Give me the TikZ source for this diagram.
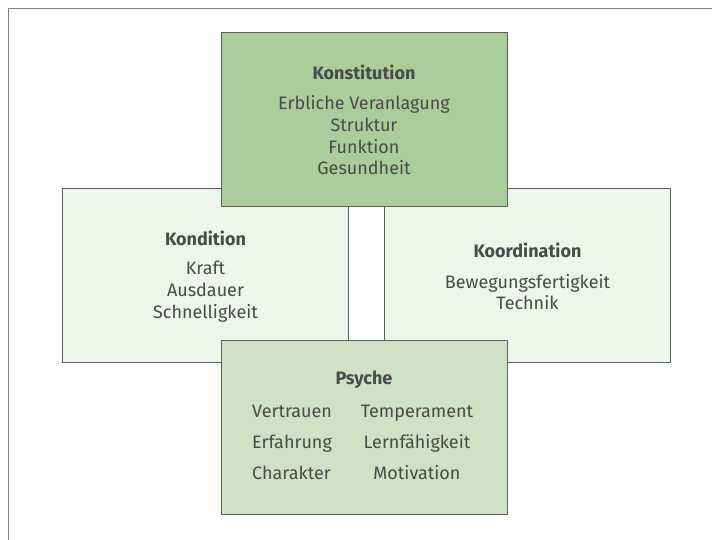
\documentclass[tikz,border=0pt]{standalone}
\usepackage{fontspec}
\setmainfont{Fira Sans}
\definecolor{strong}{HTML}{AACD9B}
\definecolor{pale}{HTML}{EEF5EB}
\definecolor{mid}{HTML}{CFE2C5}
\definecolor{edge}{HTML}{5E5E5E}
\definecolor{ink}{HTML}{4A4A4A}

\begin{document}
\begin{tikzpicture}[x=1pt, y=-1pt,
	box/.style = {draw=edge, line width=0.9pt, rectangle, inner sep=0pt, minimum width=286pt, minimum height=174pt},
	head/.style = {text=ink, font=\fontsize{18}{20}\selectfont\bfseries},
	items/.style = {text=ink, inner sep=0pt, font=\fontsize{18}{21.7}\selectfont, align=center}]
	\useasboundingbox (0,0) rectangle (712,540);
	% frame
	\draw[draw=gray, line width=0.8pt] (8,540) -- (8,8.5) -- (712,8.5);
	% boxes
	\node (kond)  [box, fill=pale]   at (205.5,275) {};
	\node (koord) [box, fill=pale]   at (527.5,275) {};
	\node (konst) [box, fill=strong] at (364,119.5) {};
	\node (psy)   [box, fill=mid]    at (364,427) {};
	% texts
	\node (konsthead) [head]  at (364,72) {Konstitution};
	\node (konstlist) [items] at (364,135.5) {Erbliche Veranlagung\\Struktur\\Funktion\\Gesundheit};
	\node (kondhead)  [head]  at (205.5,238) {Kondition};
	\node (kondlist)  [items] at (205.5,291.5) {Kraft\\Ausdauer\\Schnelligkeit};
	\node (koordhead) [head]  at (527.5,250) {Koordination};
	\node (koordlist) [items] at (527.5,292) {Bewegungsfertigkeit\\Technik};
	\node (psyhead)   [head]  at (364,380) {Psyche};
	\node (psyleft)  [items, font=\fontsize{18}{31}\selectfont, align=left, anchor=west] at (252,442) {Vertrauen\\Erfahrung\\Charakter};
	\node (psyright) [items, font=\fontsize{18}{31}\selectfont] at (417,442) {Temperament\\Lernfähigkeit\\Motivation};
\end{tikzpicture}
\end{document}
